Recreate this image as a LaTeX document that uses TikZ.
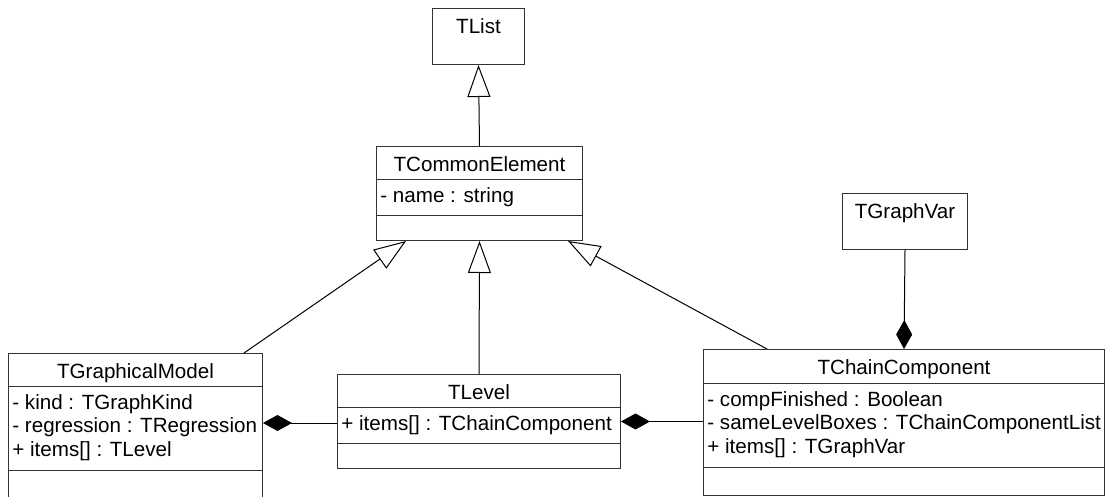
\documentclass[tikz,border=0pt]{standalone}
\usepackage{fontspec}
\setmainfont{Liberation Sans}
\usetikzlibrary{arrows.meta}

\tikzset{
  classbox/.style={draw=black!80, line width=0.5pt, inner sep=0pt, anchor=north west},
  classname/.style={anchor=north, inner xsep=0pt, inner ysep=5.3pt, font=\fontsize{10.3}{11.75}\selectfont},
  members/.style={anchor=north west, align=left, inner xsep=2pt, inner ysep=4pt, font=\fontsize{10.3}{11.75}\selectfont},
  inherits/.style={-{Triangle[open, length=16pt, width=11.5pt]}, line width=0.5pt},
  owns/.style={{Diamond[length=14.5pt, width=8pt]}-, line width=0.5pt},
}

\begin{document}
\begin{tikzpicture}[x=0.5pt, y=-0.5pt]
  \useasboundingbox (0,0) rectangle (1112,497);
  % class boxes
  \node[classbox, minimum width=46pt, minimum height=28pt] (tl) at (432,8) {};
  \node[classbox, minimum width=103pt, minimum height=47pt] (ce) at (376,146) {};
  \node[classbox, minimum width=62.5pt, minimum height=28pt] (gv) at (842,193) {};
  \node[classbox, minimum width=127pt, minimum height=74pt] (gm) at (8,353) {};
  \node[classbox, minimum width=141.5pt, minimum height=47pt] (lv) at (337,374) {};
  \node[classbox, minimum width=200.5pt, minimum height=73pt] (cc) at (703,349) {};

  % compartments
  \draw[black!80] ([yshift=-16.5pt]ce.north west) -- ([yshift=-16.5pt]ce.north east);
  \draw[black!80] ([yshift=-34.5pt]ce.north west) -- ([yshift=-34.5pt]ce.north east);
  \draw[black!80] ([yshift=-16.5pt]gm.north west) -- ([yshift=-16.5pt]gm.north east);
  \draw[black!80] ([yshift=-58.5pt]gm.north west) -- ([yshift=-58.5pt]gm.north east);
  \draw[black!80] ([yshift=-16.5pt]lv.north west) -- ([yshift=-16.5pt]lv.north east);
  \draw[black!80] ([yshift=-34.5pt]lv.north west) -- ([yshift=-34.5pt]lv.north east);
  \draw[black!80] ([yshift=-17pt]cc.north west) -- ([yshift=-17pt]cc.north east);
  \draw[black!80] ([yshift=-59pt]cc.north west) -- ([yshift=-59pt]cc.north east);

  % names and members
  \node[classname] (tl-name) at (tl.north) {TList};
  \node[classname] (ce-name) at (ce.north) {TCommonElement};
  \node[members] (ce-attr) at ([yshift=-16.5pt]ce.north west) {- name : string};
  \node[classname] (gv-name) at (gv.north) {TGraphVar};
  \node[classname] (gm-name) at (gm.north) {TGraphicalModel};
  \node[members] (gm-attr) at ([yshift=-16.5pt]gm.north west)
    {- kind : TGraphKind\\- regression : TRegression\\+ items[] : TLevel};
  \node[classname] (lv-name) at (lv.north) {TLevel};
  \node[members] (lv-attr) at ([yshift=-16.5pt]lv.north west) {+ items[] : TChainComponent};
  \node[classname] (cc-name) at (cc.north) {TChainComponent};
  \node[members] (cc-attr) at ([yshift=-17pt]cc.north west)
    {- compFinished : Boolean\\- sameLevelBoxes : TChainComponentList\\+ items[] : TGraphVar};

  % generalisations
  \draw[inherits] (ce.north) -- (tl.south);
  \draw[inherits] ([xshift=-9.5pt]gm.north east) -- ([xshift=15pt]ce.south west);
  \draw[inherits] (lv.north) -- (ce.south);
  \draw[inherits] ([xshift=32pt]cc.north west) -- ([xshift=-7.5pt]ce.south east);

  % compositions
  \draw[owns] (gm.east |- 0,423) -- (lv.west |- 0,423);
  \draw[owns] (lv.east) -- (cc.west |- lv.east);
  \draw[owns] (cc.north) -- (gv.south);
\end{tikzpicture}
\end{document}
